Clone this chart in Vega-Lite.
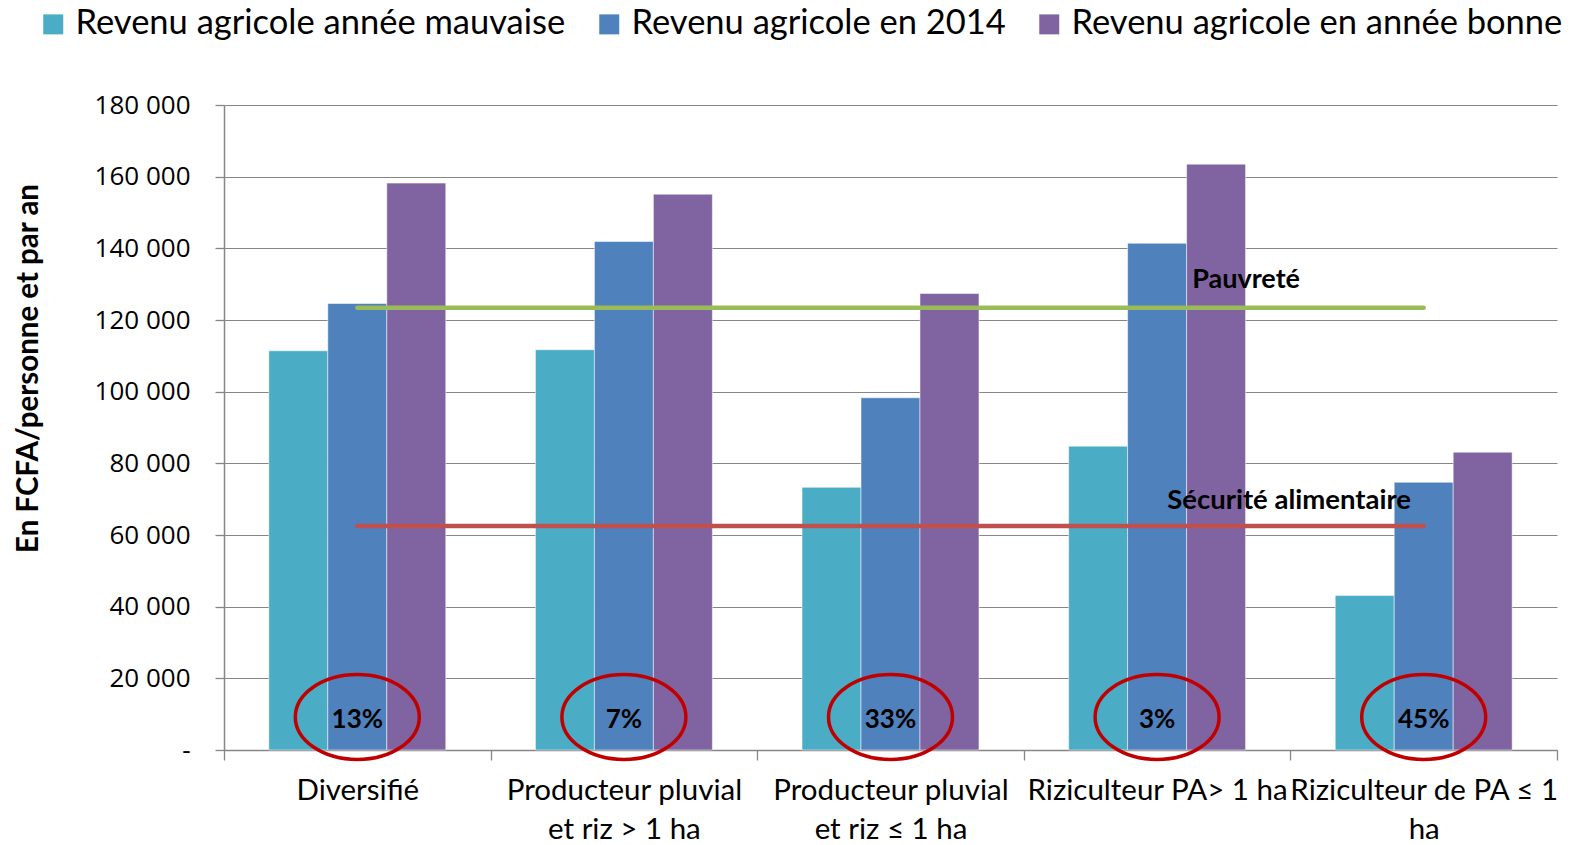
{
  "$schema": "https://vega.github.io/schema/vega-lite/v6.json",
  "width": 1333,
  "height": 645,
  "autosize": {"type": "none"},
  "padding": {"left": 224, "top": 105, "right": 20, "bottom": 95},
  "background": "white",
  "config": {"view": {"stroke": null}, "font": "Lato"},
  "datasets": {
    "revenus": [
      {"profil": "Diversifié", "serie": "Revenu agricole année mauvaise", "revenu": 111400},
      {"profil": "Diversifié", "serie": "Revenu agricole en 2014", "revenu": 124600},
      {"profil": "Diversifié", "serie": "Revenu agricole en année bonne", "revenu": 158200},
      {"profil": "Producteur pluvial et riz > 1 ha", "serie": "Revenu agricole année mauvaise", "revenu": 111700},
      {"profil": "Producteur pluvial et riz > 1 ha", "serie": "Revenu agricole en 2014", "revenu": 141900},
      {"profil": "Producteur pluvial et riz > 1 ha", "serie": "Revenu agricole en année bonne", "revenu": 155100},
      {"profil": "Producteur pluvial et riz ≤ 1 ha", "serie": "Revenu agricole année mauvaise", "revenu": 73300},
      {"profil": "Producteur pluvial et riz ≤ 1 ha", "serie": "Revenu agricole en 2014", "revenu": 98300},
      {"profil": "Producteur pluvial et riz ≤ 1 ha", "serie": "Revenu agricole en année bonne", "revenu": 127400},
      {"profil": "Riziculteur PA> 1 ha", "serie": "Revenu agricole année mauvaise", "revenu": 84800},
      {"profil": "Riziculteur PA> 1 ha", "serie": "Revenu agricole en 2014", "revenu": 141400},
      {"profil": "Riziculteur PA> 1 ha", "serie": "Revenu agricole en année bonne", "revenu": 163500},
      {"profil": "Riziculteur de PA ≤ 1 ha", "serie": "Revenu agricole année mauvaise", "revenu": 43100},
      {"profil": "Riziculteur de PA ≤ 1 ha", "serie": "Revenu agricole en 2014", "revenu": 74700},
      {"profil": "Riziculteur de PA ≤ 1 ha", "serie": "Revenu agricole en année bonne", "revenu": 83100}
    ],
    "seuils": [
      {"profil": "Diversifié", "seuil": "Pauvreté", "valeur": 123400},
      {"profil": "Riziculteur de PA ≤ 1 ha", "seuil": "Pauvreté", "valeur": 123400},
      {"profil": "Diversifié", "seuil": "Sécurité alimentaire", "valeur": 62500},
      {"profil": "Riziculteur de PA ≤ 1 ha", "seuil": "Sécurité alimentaire", "valeur": 62500}
    ],
    "parts": [
      {"profil": "Diversifié", "part": "13%"},
      {"profil": "Producteur pluvial et riz > 1 ha", "part": "7%"},
      {"profil": "Producteur pluvial et riz ≤ 1 ha", "part": "33%"},
      {"profil": "Riziculteur PA> 1 ha", "part": "3%"},
      {"profil": "Riziculteur de PA ≤ 1 ha", "part": "45%"}
    ]
  },
  "layer": [
    {
      "data": {"name": "revenus"},
      "mark": {"type": "bar", "stroke": "white", "strokeWidth": 1, "strokeOpacity": 0.5},
      "encoding": {
        "x": {
          "field": "profil", "type": "nominal", "sort": null,
          "scale": {"domain": ["Diversifié", "Producteur pluvial et riz > 1 ha", "Producteur pluvial et riz ≤ 1 ha", "Riziculteur PA> 1 ha", "Riziculteur de PA ≤ 1 ha"], "paddingInner": 0, "paddingOuter": 0},
          "axis": {
            "title": null, "tickBand": "extent", "tickSize": 10, "tickColor": "#868686", "tickWidth": 1.3,
            "domainColor": "#868686", "domainWidth": 1.5, "grid": false,
            "labelFont": "Lato", "labelFontSize": 29.5, "labelColor": "black", "labelPadding": 16,
            "labelLineHeight": 39, "labelAngle": 0, "labelLimit": 400, "labelOverlap": false,
            "labelExpr": "datum.label == 'Producteur pluvial et riz > 1 ha' ? ['Producteur pluvial', 'et riz > 1 ha'] : datum.label == 'Producteur pluvial et riz ≤ 1 ha' ? ['Producteur pluvial', 'et riz ≤ 1 ha'] : datum.label == 'Riziculteur de PA ≤ 1 ha' ? ['Riziculteur de PA ≤ 1', 'ha'] : datum.label"
          }
        },
        "xOffset": {
          "field": "serie", "type": "nominal",
          "sort": ["Revenu agricole année mauvaise", "Revenu agricole en 2014", "Revenu agricole en année bonne"],
          "scale": {"paddingInner": 0, "paddingOuter": 0.76}
        },
        "y": {
          "field": "revenu", "type": "quantitative",
          "scale": {"domain": [0, 180000], "nice": false},
          "axis": {
            "title": "En FCFA/personne et par an", "titleFont": "Lato", "titleFontSize": 29.5, "titleFontWeight": "bold",
            "titleColor": "black", "titleX": -196, "titleY": 263, "titleAngle": -90, "titleAlign": "center", "titleBaseline": "middle",
            "values": [0, 20000, 40000, 60000, 80000, 100000, 120000, 140000, 160000, 180000],
            "labelExpr": "datum.value == 0 ? '-' : format(datum.value / 1000, 'd') + ' 000'",
            "labelFont": "Open Sans", "labelFontSize": 26, "labelColor": "black", "labelPadding": 25,
            "tickSize": 9, "tickColor": "#868686", "tickWidth": 1.3,
            "domainColor": "#868686", "domainWidth": 1.5,
            "grid": true, "gridColor": "#868686", "gridWidth": 1.2
          }
        },
        "color": {
          "field": "serie", "type": "nominal",
          "sort": ["Revenu agricole année mauvaise", "Revenu agricole en 2014", "Revenu agricole en année bonne"],
          "scale": {"domain": ["Revenu agricole année mauvaise", "Revenu agricole en 2014", "Revenu agricole en année bonne"], "range": ["#4BACC6", "#4F81BD", "#8064A2"]},
          "legend": {
            "title": null, "orient": "none", "legendX": -188, "legendY": -98, "direction": "horizontal",
            "symbolType": "square", "symbolSize": 400, "symbolStrokeWidth": 0,
            "labelFont": "Lato", "labelFontSize": 34.5, "labelColor": "black", "labelOffset": 5,
            "columnPadding": 26, "labelLimit": 700
          }
        }
      }
    },
    {
      "data": {"name": "seuils"},
      "mark": {"type": "line", "strokeWidth": 4.5, "strokeCap": "round"},
      "encoding": {
        "x": {"field": "profil", "type": "nominal", "sort": null},
        "y": {"field": "valeur", "type": "quantitative"},
        "detail": {"field": "seuil"},
        "stroke": {"field": "seuil", "type": "nominal", "scale": {"domain": ["Pauvreté", "Sécurité alimentaire"], "range": ["#9BBB59", "#C0504D"]}, "legend": null}
      }
    },
    {
      "data": {"values": [{"profil": "Riziculteur PA> 1 ha", "libelle": "Pauvreté", "valeur": 131200}]},
      "mark": {"type": "text", "font": "Lato", "fontSize": 27, "fontWeight": "bold", "color": "black", "align": "center", "baseline": "middle", "dx": 89},
      "encoding": {
        "x": {"field": "profil", "type": "nominal", "sort": null},
        "y": {"field": "valeur", "type": "quantitative"},
        "text": {"field": "libelle"}
      }
    },
    {
      "data": {"values": [{"profil": "Riziculteur PA> 1 ha", "libelle": "Sécurité alimentaire", "valeur": 69600}]},
      "mark": {"type": "text", "font": "Lato", "fontSize": 27.5, "fontWeight": "bold", "color": "black", "align": "center", "baseline": "middle", "dx": 132},
      "encoding": {
        "x": {"field": "profil", "type": "nominal", "sort": null},
        "y": {"field": "valeur", "type": "quantitative"},
        "text": {"field": "libelle"}
      }
    },
    {
      "data": {"name": "parts"},
      "mark": {"type": "point", "shape": "M -1 0 A 1 0.685 0 1 0 1 0 A 1 0.685 0 1 0 -1 0 Z", "filled": false, "size": 15376, "stroke": "#C00000", "strokeWidth": 3.5, "opacity": 1},
      "encoding": {
        "x": {"field": "profil", "type": "nominal", "sort": null},
        "y": {"datum": 9200, "type": "quantitative"}
      }
    },
    {
      "data": {"name": "parts"},
      "mark": {"type": "text", "font": "Lato", "fontSize": 26, "fontWeight": "bold", "color": "black", "align": "center", "baseline": "middle"},
      "encoding": {
        "x": {"field": "profil", "type": "nominal", "sort": null},
        "y": {"datum": 8400, "type": "quantitative"},
        "text": {"field": "part"}
      }
    }
  ]
}
